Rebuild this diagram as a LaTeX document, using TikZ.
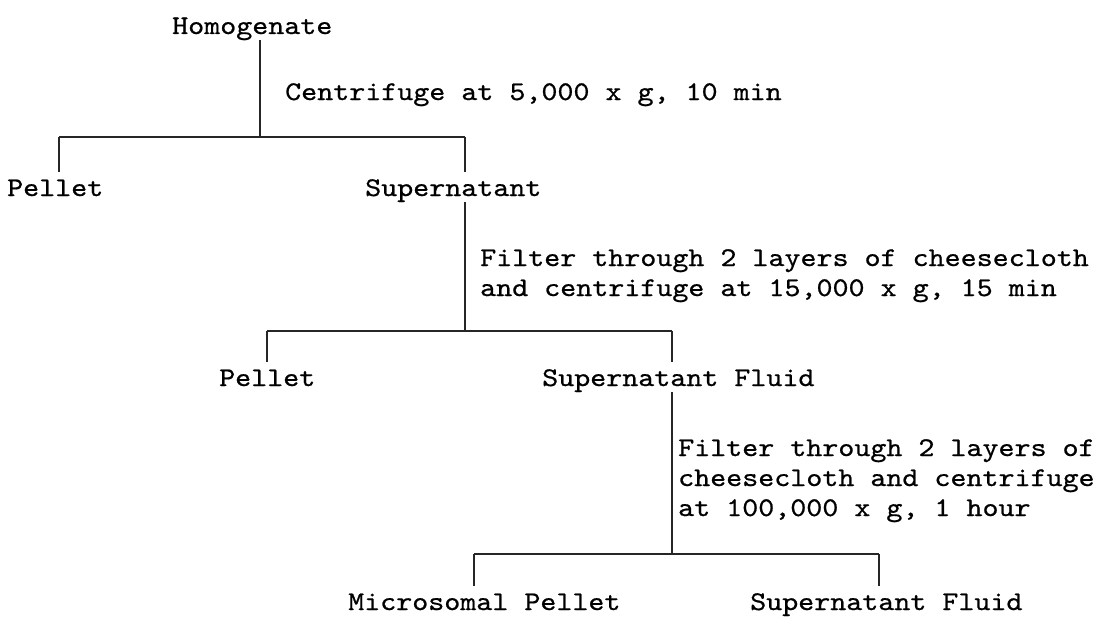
\documentclass[tikz,border=0pt]{standalone}
\usepackage{fontspec}
\newfontfamily\tw{lmmono10-regular.otf}[FakeBold=0.7,FakeStretch=1.13]
\begin{document}
\begin{tikzpicture}[x=1pt,y=-1pt,
  txt/.style={anchor=base west,inner sep=0pt,font=\tw\fontsize{27}{30}\selectfont},
  ln/.style={line width=1.2pt,black!85}]
\useasboundingbox (0,0) rectangle (1107,618);
% texts
\node[txt] (homog) at (172,34) {Homogenate};
\node[txt] (lab1) at (285,100) {Centrifuge at 5,000 x g, 10 min};
\node[txt] (pel1) at (7,196) {Pellet};
\node[txt] (sup1) at (365,196) {Supernatant};
\node[txt] (lab2a) at (480,266) {Filter through 2 layers of cheesecloth};
\node[txt] (lab2b) at (480,296) {and centrifuge at 15,000 x g, 15 min};
\node[txt] (pel2) at (219,386) {Pellet};
\node[txt] (supf2) at (542,386) {Supernatant Fluid};
\node[txt] (lab3a) at (678,456) {Filter through 2 layers of};
\node[txt] (lab3b) at (678,486) {cheesecloth and centrifuge};
\node[txt] (lab3c) at (678,516) {at 100,000 x g, 1 hour};
\node[txt] (mp) at (348,610) {Microsomal Pellet};
\node[txt] (sf3) at (750,610) {Supernatant Fluid};
% junctions
\coordinate (j1) at (260,137);
\coordinate (j1l) at (59,137);
\coordinate (j1r) at (465,137);
\coordinate (j2) at (465,331);
\coordinate (j2l) at (267,331);
\coordinate (j2r) at (672,331);
\coordinate (j3) at (672,554);
\coordinate (j3l) at (474,554);
\coordinate (j3r) at (879,554);
% connectors
\draw[ln] (homog.south -| j1) -- (j1);
\draw[ln] (j1l) -- (j1r);
\draw[ln] (j1l) -- ([yshift=7pt]pel1.north -| j1l);
\draw[ln] (j1r) -- ([yshift=7pt]sup1.north -| j1r);
\draw[ln] (sup1.south -| j2) -- (j2);
\draw[ln] (j2l) -- (j2r);
\draw[ln] (j2l) -- ([yshift=7pt]pel2.north -| j2l);
\draw[ln] (j2r) -- ([yshift=7pt]supf2.north -| j2r);
\draw[ln] (supf2.south -| j3) -- (j3);
\draw[ln] (j3l) -- (j3r);
\draw[ln] (j3l) -- ([yshift=7pt]mp.north -| j3l);
\draw[ln] (j3r) -- ([yshift=7pt]sf3.north -| j3r);
\end{tikzpicture}
\end{document}
